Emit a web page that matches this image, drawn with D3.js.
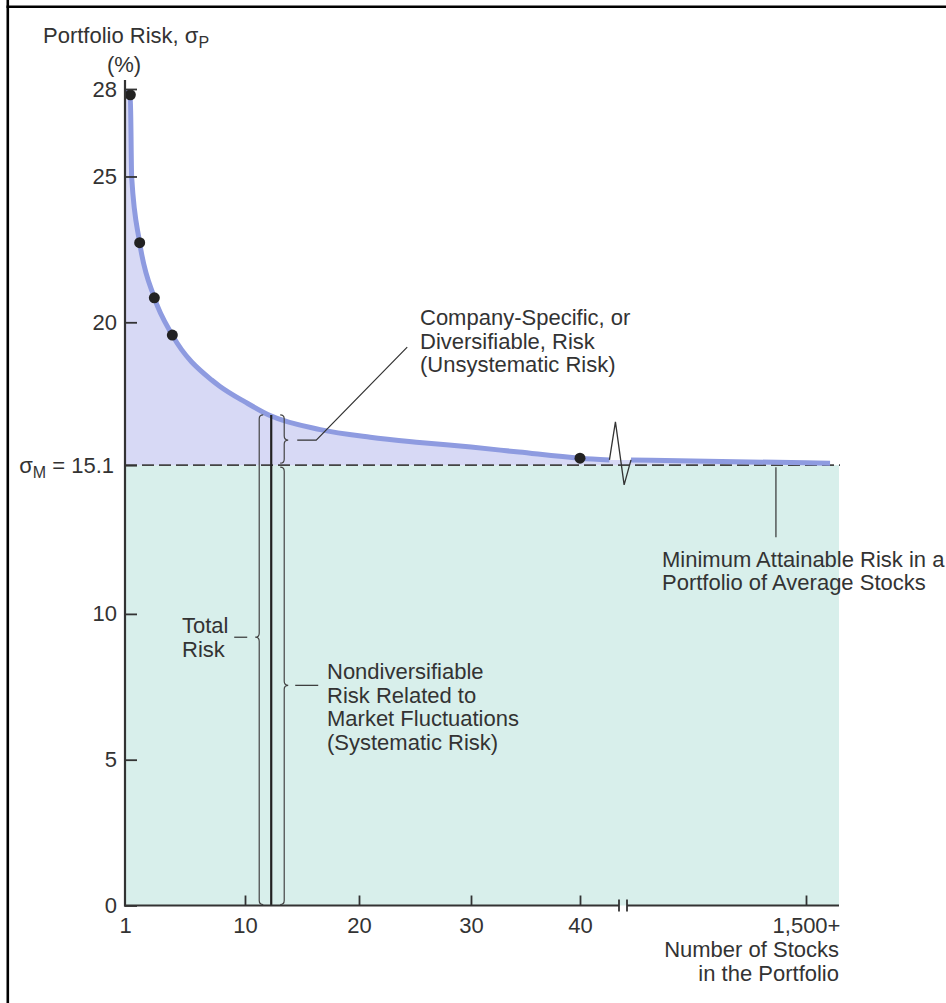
<!DOCTYPE html>
<html>
<head>
<meta charset="utf-8">
<script src="https://cdnjs.cloudflare.com/ajax/libs/d3/7.8.5/d3.min.js"></script>
<style>
body { margin: 0; background: #fff; }
svg { display: block; font-family: "Liberation Sans", Arial, sans-serif; }
text { fill: #333; font-size: 22px; }
</style>
</head>
<body>
<svg width="946" height="1003"></svg>
<script>
// Values
var curveN     = [1, 1.4, 1.5, 2.1, 3.2, 4.55, 7.5, 8.1, 10, 12.2, 16.6, 21, 25.4, 30, 34.4, 40, 42.7];
var curveSigma = [27.9, 27.8, 24.98, 22.73, 20.84, 19.56, 18.02, 17.81, 17.27, 16.8, 16.32, 16.06, 15.88, 15.72, 15.55, 15.34, 15.28];
var farN       = [45, 1500, 1700];
var farSigma   = [15.28, 15.18, 15.17];
var dotN       = [1.4, 2.1, 3.2, 4.55, 40];
var dotSigma   = [27.8, 22.73, 20.84, 19.56, 15.34];
var yTicks     = [0, 5, 10, 15.1, 20, 25, 28];
var xTicks     = [1, 10, 20, 30, 40];
var farTicks   = [1500];
var sigmaM     = 15.1;
var bracketN   = 12.3;   // where the total-risk bracket stands
var totalTip   = 9.2;    // height of the "Total Risk" brace tip
var minRiskN   = 1250;   // pointer for the minimum attainable risk

var svg = d3.select('svg');

// Scales: the x axis is broken between 40 and the 1,500+ region
var x = d3.scaleLinear().domain([1, 10, 20, 30, 40]).range([125, 245, 359, 471, 580]);
var xFar = d3.scaleLinear().domain([45, 1500]).range([631, 806]);
var y = d3.scaleLinear().domain([0, 28]).range([905.5, 89]);
var x0 = x(1), xEnd = 839, yBase = y(0);
var breakL = 619, breakR = 627;

var nearPts = curveN.map(function(n, i) { return [x(n), y(curveSigma[i])]; });
var farPts = farN.map(function(n, i) { return [xFar(n), y(farSigma[i])]; });
var sigmaAt = d3.scaleLinear().domain(curveN).range(curveSigma);

// Frame (left and top only)
svg.append('line').attr('x1', 7.8).attr('x2', 7.8).attr('y1', 0).attr('y2', 1003)
    .attr('stroke', '#000').attr('stroke-width', 2.6);
svg.append('line').attr('x1', 6.5).attr('x2', 946).attr('y1', 6.8).attr('y2', 6.8)
    .attr('stroke', '#000').attr('stroke-width', 2.6);

// Systematic risk region
svg.append('rect')
    .attr('x', x0).attr('y', y(sigmaM))
    .attr('width', xEnd - x0).attr('height', yBase - y(sigmaM))
    .attr('fill', '#d8efeb');

// Diversifiable risk region
var area = d3.area()
    .x(function(d) { return d[0]; })
    .y0(y(sigmaM))
    .y1(function(d) { return d[1]; })
    .curve(d3.curveMonotoneX);
svg.append('path')
    .datum(nearPts.concat(farPts))
    .attr('d', area)
    .attr('fill', '#d7d9f5');

// Market risk line
svg.append('line')
    .attr('x1', x0).attr('x2', xEnd + 1)
    .attr('y1', y(sigmaM)).attr('y2', y(sigmaM))
    .attr('stroke', '#444').attr('stroke-width', 1.8)
    .attr('stroke-dasharray', '12,5');

// Curve
var line = d3.line().curve(d3.curveMonotoneX);
svg.append('path').attr('d', line(nearPts))
    .attr('fill', 'none').attr('stroke', '#8e9be0').attr('stroke-width', 5);
svg.append('path').attr('d', line(farPts))
    .attr('fill', 'none').attr('stroke', '#8e9be0').attr('stroke-width', 5);

// Break zigzag on the curve
var zx = nearPts[nearPts.length - 1][0], zy = nearPts[nearPts.length - 1][1];
svg.append('path')
    .attr('d', d3.line()([[zx, zy], [zx + 6, zy - 38], [zx + 14.7, zy + 25], [farPts[0][0], farPts[0][1]]]))
    .attr('fill', 'none').attr('stroke', '#333').attr('stroke-width', 1.3);

// Brackets
function brace(xb, y1, y2, tipY, dir) {
    var w = 4, p = d3.path();
    p.moveTo(xb - dir * w, y1);
    p.quadraticCurveTo(xb, y1, xb, y1 + w);
    p.lineTo(xb, tipY - w);
    p.quadraticCurveTo(xb, tipY, xb + dir * w, tipY);
    p.quadraticCurveTo(xb, tipY, xb, tipY + w);
    p.lineTo(xb, y2 - w);
    p.quadraticCurveTo(xb, y2, xb - dir * w, y2);
    return p.toString();
}
var bx = x(bracketN), topY = y(sigmaAt(bracketN)) - 1, midY = y(sigmaM);
svg.append('line').attr('x1', bx).attr('x2', bx).attr('y1', topY).attr('y2', yBase)
    .attr('stroke', '#222').attr('stroke-width', 2.2);
var braces = [
    [bx - 12, topY, yBase - 1, y(totalTip), -1],
    [bx + 13, topY, midY - 2, (topY + midY) / 2, 1],
    [bx + 13, midY + 2, yBase - 1, (midY + yBase) / 2, 1]
];
svg.selectAll('path.brace').data(braces).enter().append('path')
    .attr('class', 'brace')
    .attr('d', function(d) { return brace(d[0], d[1], d[2], d[3], d[4]); })
    .attr('fill', 'none').attr('stroke', '#444').attr('stroke-width', 1.2);

// Leader lines
var leaders = [
    [[bx - 37, y(totalTip)], [bx - 24, y(totalTip)]],
    [[bx + 24, (midY + yBase) / 2], [bx + 47, (midY + yBase) / 2]],
    [[bx + 26, (topY + midY) / 2], [bx + 45, (topY + midY) / 2], [bx + 136, (topY + midY) / 2 - 93]],
    [[xFar(minRiskN), midY + 2], [xFar(minRiskN), midY + 72]]
];
svg.selectAll('path.leader').data(leaders).enter().append('path')
    .attr('class', 'leader')
    .attr('d', d3.line())
    .attr('fill', 'none').attr('stroke', '#333').attr('stroke-width', 1.2);

// Dots
svg.selectAll('circle').data(dotN).enter().append('circle')
    .attr('cx', function(d) { return x(d); })
    .attr('cy', function(d, i) { return y(dotSigma[i]); })
    .attr('r', 5.5)
    .attr('fill', '#222');

// Y axis
var gy = svg.append('g').attr('transform', 'translate(' + x0 + ',0)')
    .call(d3.axisLeft(y).tickValues(yTicks).tickSize(-12).tickPadding(8)
        .tickFormat(function(d) { return d === sigmaM ? '' : d; }));
gy.attr('font-family', null).attr('font-size', null);
gy.select('.domain').remove();
gy.selectAll('.tick line').attr('stroke', '#333').attr('stroke-width', 1.8);
gy.selectAll('.tick text').attr('fill', '#333');
svg.append('line').attr('x1', x0).attr('x2', x0).attr('y1', y(28) - 9).attr('y2', yBase + 1)
    .attr('stroke', '#333').attr('stroke-width', 2.2);

var sm = svg.append('text').attr('x', x0 - 11).attr('y', midY + 8).attr('text-anchor', 'end');
sm.append('tspan').text('σ');
sm.append('tspan').attr('font-size', 16).attr('dy', 5).text('M');
sm.append('tspan').attr('dy', -5).text(' = 15.1');

// X axis (broken)
function styleX(g) {
    g.attr('font-family', null).attr('font-size', null);
    g.select('.domain').remove();
    g.selectAll('.tick line').attr('stroke', '#333').attr('stroke-width', 1.8);
    g.selectAll('.tick text').attr('fill', '#333');
}
var gx = svg.append('g').attr('transform', 'translate(0,' + yBase + ')')
    .call(d3.axisBottom(x).tickValues(xTicks).tickSize(-10).tickPadding(12));
styleX(gx);
gx.selectAll('.tick').filter(function(d) { return d === 1; }).select('line').remove();
var gxf = svg.append('g').attr('transform', 'translate(0,' + yBase + ')')
    .call(d3.axisBottom(xFar).tickValues(farTicks).tickSize(-10).tickPadding(12)
        .tickFormat(function(d) { return d3.format(',')(d) + '+'; }));
styleX(gxf);

svg.append('path')
    .attr('d', 'M' + (x0 - 1) + ',' + yBase + 'H' + breakL + 'M' + breakR + ',' + yBase + 'H' + xEnd)
    .attr('stroke', '#333').attr('stroke-width', 2.2);
svg.append('path')
    .attr('d', 'M' + breakL + ',' + (yBase - 6) + 'V' + (yBase + 6) + 'M' + breakR + ',' + (yBase - 6) + 'V' + (yBase + 6))
    .attr('stroke', '#333').attr('stroke-width', 1.8);

// Texts
function lines(xp, y0, arr, step, anchor) {
    var t = svg.append('text').attr('text-anchor', anchor || 'start');
    arr.forEach(function(s, i) {
        t.append('tspan').attr('x', xp).attr('y', y0 + i * step).text(s);
    });
    return t;
}
var title = svg.append('text').attr('x', 43).attr('y', 43);
title.append('tspan').text('Portfolio Risk, σ');
title.append('tspan').attr('font-size', 16).attr('dy', 5).text('P');
svg.append('text').attr('x', 124).attr('y', 72).attr('text-anchor', 'middle').text('(%)');

lines(420, 325, ['Company-Specific, or', 'Diversifiable, Risk', '(Unsystematic Risk)'], 23.5);
lines(182, 633, ['Total', 'Risk'], 24);
lines(327, 679, ['Nondiversifiable', 'Risk Related to', 'Market Fluctuations', '(Systematic Risk)'], 23.7);
lines(662, 567, ['Minimum Attainable Risk in a', 'Portfolio of Average Stocks'], 23);
lines(xEnd, 957, ['Number of Stocks', 'in the Portfolio'], 24, 'end');
</script>
</body>
</html>
